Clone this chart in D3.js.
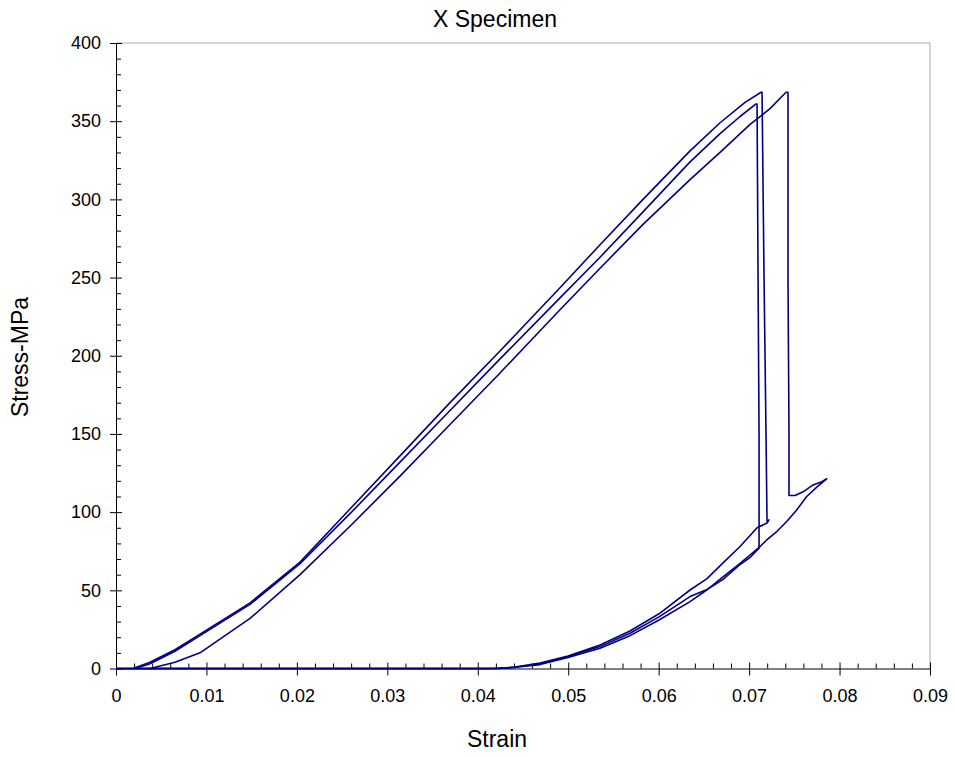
<!DOCTYPE html>
<html>
<head>
<meta charset="utf-8">
<script src="https://cdn.jsdelivr.net/npm/d3@7"></script>
<style>
  html, body { margin: 0; padding: 0; background: #fff; }
  svg { display: block; font-family: "Liberation Sans", Arial, sans-serif; }
</style>
</head>
<body>
<svg id="chart" width="955" height="757"></svg>
<script>
// ---- data: [strain, stress(MPa)] ----
const specimenA = [
  [0, 0], [0.00188, 0], [0.00376, 4], [0.00652, 12], [0.00929, 22], [0.01482, 42],
  [0.02035, 68], [0.02587, 102], [0.0314, 136], [0.03693, 170], [0.04246, 203],
  [0.04909, 243.5], [0.05352, 271], [0.05827, 300], [0.06347, 331], [0.06679, 349],
  [0.06955, 362], [0.07132, 368.5],
  [0.07143, 368.5], [0.07165, 250], [0.07187, 150], [0.07198, 94], [0.0722, 95], [0.07198, 93],
  [0.07088, 90], [0.069, 78], [0.06712, 67.5], [0.06535, 57.5], [0.06347, 50.2],
  [0.06004, 35], [0.05683, 24], [0.05352, 15], [0.04998, 8], [0.04688, 3.5],
  [0.04412, 1], [0.04246, 0], [0, 0]
];
const specimenB = [
  [0, 0], [0.0021, 0], [0.00376, 3], [0.00652, 11], [0.00929, 21], [0.01482, 41],
  [0.02035, 67], [0.02587, 99], [0.0314, 132], [0.03693, 165], [0.04246, 198],
  [0.04909, 237], [0.05352, 263], [0.05827, 292], [0.06347, 324], [0.06679, 342],
  [0.069, 353], [0.07077, 361],
  [0.07088, 361], [0.07099, 250], [0.0711, 150], [0.0711, 77],
  [0.0701, 71], [0.069, 66.5], [0.06712, 57], [0.06535, 50.5], [0.06347, 46],
  [0.06004, 33], [0.05683, 22.5], [0.05352, 14], [0.04998, 7.5], [0.04688, 3],
  [0.04412, 0.8], [0.04191, 0], [0, 0]
];
const specimenC = [
  [0, 0], [0.00376, 0], [0.00652, 4], [0.00929, 10], [0.01482, 32], [0.02035, 60],
  [0.02587, 91], [0.0314, 123], [0.03693, 156], [0.04246, 189], [0.04909, 229.4],
  [0.05352, 256], [0.05827, 284], [0.06347, 312.6], [0.06679, 330], [0.07011, 348],
  [0.07231, 358], [0.07408, 368.5],
  [0.0743, 368.5], [0.0743, 250], [0.07441, 150], [0.07441, 110.6], [0.07508, 110.6],
  [0.07597, 113], [0.07707, 117.4], [0.07803, 119.5], [0.07858, 121.3],
  [0.07748, 116], [0.07637, 110], [0.07526, 101.4], [0.07416, 94], [0.07306, 87.6],
  [0.07195, 82.2], [0.07121, 78], [0.069, 67.3], [0.06715, 58.8], [0.06531, 50.2],
  [0.06347, 42.8], [0.06004, 31], [0.05683, 21], [0.05352, 13], [0.04998, 7],
  [0.04688, 2.5], [0.04356, 0.5], [0.04135, 0], [0, 0]
];
const xTicks = [0, 0.01, 0.02, 0.03, 0.04, 0.05, 0.06, 0.07, 0.08, 0.09];
const yTicks = [0, 50, 100, 150, 200, 250, 300, 350, 400];
const titleText = "X Specimen";
const xTitle = "Strain";
const yTitle = "Stress-MPa";

// ---- layout ----
const svg = d3.select("#chart");
const mLeft = 116, mRight = 930, mTop = 43, mBottom = 668.5;
const x = d3.scaleLinear().domain([0, 0.09]).range([mLeft, mRight]);
const y = d3.scaleLinear().domain([0, 400]).range([mBottom, mTop]);
const lineColor = "#000080";

// plot frame (top & right, light gray)
svg.append("path")
  .attr("d", `M${mLeft},${mTop}H${mRight}V${mBottom}`)
  .attr("fill", "none").attr("stroke", "#c8c8c8").attr("stroke-width", 1.5);

// minor ticks
const xMinor = d3.range(0, 0.0901, 0.002).filter(v => Math.abs(v * 100 - Math.round(v * 100)) > 1e-6);
const yMinor = d3.range(0, 401, 10).filter(v => v % 50 !== 0);

const xMinorAxis = svg.append("g").attr("transform", `translate(0,${mBottom})`)
  .call(d3.axisTop(x).tickValues(xMinor).tickSize(5).tickFormat(""));
xMinorAxis.select(".domain").remove();
const yMinorAxis = svg.append("g").attr("transform", `translate(${mLeft},0)`)
  .call(d3.axisRight(y).tickValues(yMinor).tickSize(5).tickFormat(""));
yMinorAxis.select(".domain").remove();

// major axes
const fmtX = d => d === 0 ? "0" : d3.format(".2f")(d);
const xAxis = svg.append("g").attr("transform", `translate(0,${mBottom})`)
  .call(d3.axisBottom(x).tickValues(xTicks).tickFormat(fmtX).tickSize(7).tickSizeOuter(0).tickPadding(14));
xAxis.selectAll(".tick line").attr("y1", -6);
const yAxis = svg.append("g").attr("transform", `translate(${mLeft},0)`)
  .call(d3.axisLeft(y).tickValues(yTicks).tickSize(6).tickSizeOuter(0).tickPadding(9));
yAxis.selectAll(".tick line").attr("x1", 6);

[xAxis, yAxis, xMinorAxis, yMinorAxis].forEach(g => {
  g.selectAll("line").attr("stroke", "#000");
  g.selectAll(".domain").attr("stroke", "#000");
  g.selectAll("text").attr("font-size", 18).attr("fill", "#000")
    .attr("font-family", "Liberation Sans, Arial, sans-serif");
});

// data lines
const line = d3.line().x(d => x(d[0])).y(d => y(d[1]));
[specimenA, specimenB, specimenC].forEach(s => {
  svg.append("path").datum(s)
    .attr("d", line)
    .attr("fill", "none")
    .attr("stroke", lineColor)
    .attr("stroke-width", 1.6)
    .attr("stroke-linejoin", "round");
});

// titles
svg.append("text").attr("x", 495).attr("y", 26.5).attr("text-anchor", "middle")
  .attr("font-size", 23).text(titleText);
svg.append("text").attr("x", 497).attr("y", 747).attr("text-anchor", "middle")
  .attr("font-size", 23).text(xTitle);
svg.append("text").attr("transform", "translate(28,357) rotate(-90)")
  .attr("text-anchor", "middle").attr("font-size", 23).text(yTitle);
</script>
</body>
</html>
